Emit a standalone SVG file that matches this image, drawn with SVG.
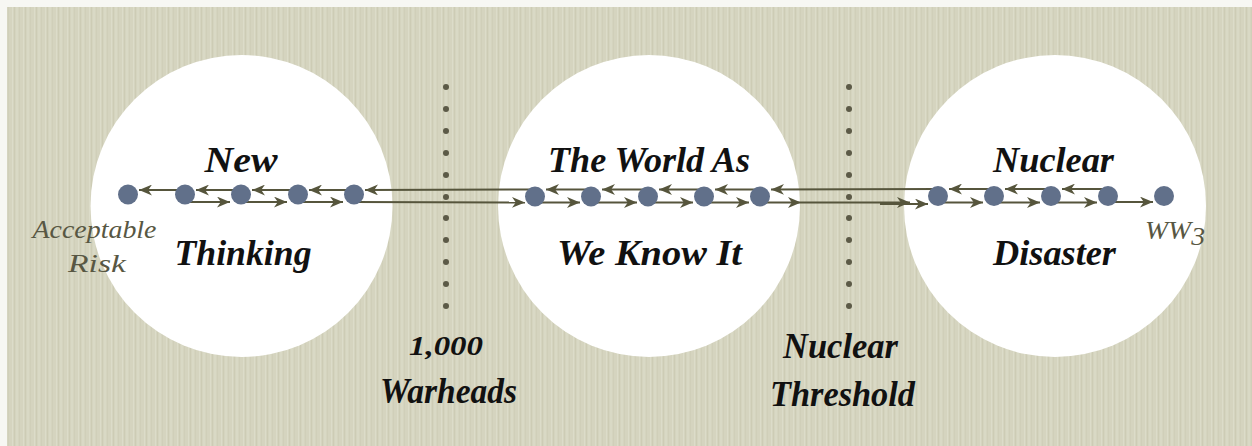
<svg xmlns="http://www.w3.org/2000/svg" width="1252" height="446" viewBox="0 0 1252 446">
  <defs>
    <pattern id="paper" x="0" y="0" width="11" height="446" patternUnits="userSpaceOnUse">
      <rect width="11" height="446" fill="#d5d4bf"/>
      <rect x="1" width="1" height="446" fill="#dcdcc9"/>
      <rect x="3" width="1" height="446" fill="#cdccb5"/>
      <rect x="5" width="2" height="446" fill="#d9d9c5"/>
      <rect x="8" width="1" height="446" fill="#d0cfb9"/>
    </pattern>
    <marker id="arr" viewBox="0 0 12 10" refX="12" refY="5" markerWidth="13" markerHeight="11" markerUnits="userSpaceOnUse" orient="auto">
      <path d="M0,0 L12,5 L0,10 L3.5,5 z" fill="#56553c"/>
    </marker>
    <style>
      .zone { fill: #ffffff; }
      .big { font-family: "Liberation Serif", serif; font-style: italic; font-weight: bold; font-size: 36px; fill: #111111; text-anchor: middle; }
      .small { font-family: "Liberation Serif", serif; font-style: italic; font-size: 26px; fill: #585743; text-anchor: middle; }
      .dot { fill: #61708a; }
      .sep { fill: #5c5a47; }
      .conn line { stroke: #56553c; stroke-width: 2; marker-end: url(#arr); }
    </style>
  </defs>

  <rect x="0" y="0" width="1252" height="446" fill="#f7f7f3"/>
  <rect x="7" y="7" width="1245" height="439" fill="url(#paper)"/>

  <!-- regions -->
  <g id="region-new-thinking">
    <circle class="zone" cx="241.5" cy="206" r="151"/>
    <text class="big" x="241" y="172" textLength="73" lengthAdjust="spacingAndGlyphs">New</text>
    <text class="big" x="243" y="265" textLength="137" lengthAdjust="spacingAndGlyphs">Thinking</text>
  </g>
  <g id="region-world">
    <circle class="zone" cx="649" cy="206" r="151"/>
    <text class="big" x="649" y="172" textLength="202" lengthAdjust="spacingAndGlyphs">The World As</text>
    <text class="big" x="649.5" y="265" textLength="185" lengthAdjust="spacingAndGlyphs">We Know It</text>
  </g>
  <g id="region-disaster">
    <circle class="zone" cx="1055" cy="206" r="151"/>
    <text class="big" x="1053.5" y="172" textLength="121" lengthAdjust="spacingAndGlyphs">Nuclear</text>
    <text class="big" x="1054.5" y="265" textLength="123" lengthAdjust="spacingAndGlyphs">Disaster</text>
  </g>

  <!-- dividers -->
  <g id="divider-warheads">
    <g class="sep">
      <circle cx="446" cy="87" r="3"/><circle cx="446" cy="109" r="3"/><circle cx="446" cy="131" r="3"/>
      <circle cx="446" cy="153" r="3"/><circle cx="446" cy="175" r="3"/><circle cx="446" cy="197" r="3"/>
      <circle cx="446" cy="218" r="3"/><circle cx="446" cy="240" r="3"/><circle cx="446" cy="262" r="3"/>
      <circle cx="446" cy="284" r="3"/><circle cx="446" cy="306" r="3"/>
    </g>
    <text class="big" x="446" y="355" style="font-size:27px" textLength="74" lengthAdjust="spacingAndGlyphs">1,000</text>
    <text class="big" x="448.5" y="403" textLength="137" lengthAdjust="spacingAndGlyphs">Warheads</text>
  </g>
  <g id="divider-threshold">
    <g class="sep">
      <circle cx="849" cy="87" r="3"/><circle cx="849" cy="109" r="3"/><circle cx="849" cy="131" r="3"/>
      <circle cx="849" cy="153" r="3"/><circle cx="849" cy="175" r="3"/><circle cx="849" cy="197" r="3"/>
      <circle cx="849" cy="218" r="3"/><circle cx="849" cy="240" r="3"/><circle cx="849" cy="262" r="3"/>
      <circle cx="849" cy="284" r="3"/><circle cx="849" cy="306" r="3"/>
    </g>
    <text class="big" x="840.5" y="358" textLength="115" lengthAdjust="spacingAndGlyphs">Nuclear</text>
    <text class="big" x="842.5" y="406" textLength="145" lengthAdjust="spacingAndGlyphs">Threshold</text>
  </g>

  <!-- connectors -->
  <g id="connectors" class="conn">
    <line x1="185" y1="190" x2="139" y2="190"/>
    <line x1="241" y1="190" x2="196" y2="190"/>
    <line x1="298" y1="190" x2="252" y2="190"/>
    <line x1="354" y1="190" x2="309" y2="190"/>
    <line x1="535" y1="189.5" x2="365" y2="190"/>
    <line x1="591" y1="189.5" x2="546" y2="189.5"/>
    <line x1="648" y1="189.5" x2="602" y2="189.5"/>
    <line x1="704" y1="189.5" x2="659" y2="189.5"/>
    <line x1="760" y1="189.5" x2="715" y2="189.5"/>
    <line x1="938" y1="189" x2="771" y2="189.5"/>
    <line x1="994" y1="189" x2="949" y2="189"/>
    <line x1="1051" y1="189" x2="1005" y2="189"/>
    <line x1="1108" y1="189" x2="1062" y2="189"/>
    <line x1="185" y1="202" x2="230" y2="202"/>
    <line x1="241" y1="202" x2="287" y2="202"/>
    <line x1="298" y1="202" x2="343" y2="202"/>
    <line x1="354" y1="202" x2="525" y2="202.5"/>
    <line x1="535" y1="202.5" x2="580" y2="202.5"/>
    <line x1="591" y1="202.5" x2="637" y2="202.5"/>
    <line x1="648" y1="202.5" x2="693" y2="202.5"/>
    <line x1="704" y1="202.5" x2="749" y2="202.5"/>
    <line x1="760" y1="202.5" x2="801" y2="202.5"/>
    <line x1="801" y1="202.5" x2="910" y2="202.5"/>
    <line x1="880" y1="204" x2="928" y2="204"/>
    <line x1="938" y1="202.5" x2="983" y2="202.5"/>
    <line x1="994" y1="202.5" x2="1040" y2="202.5"/>
    <line x1="1051" y1="202.5" x2="1097" y2="202.5"/>
    <line x1="1108" y1="202" x2="1153" y2="202"/>
  </g>

  <!-- nodes -->
  <g id="node-acceptable-risk">
    <circle class="dot" cx="128" cy="194.5" r="10"/>
    <text class="small" x="94.5" y="238" textLength="124" lengthAdjust="spacingAndGlyphs">Acceptable</text>
    <text class="small" x="97" y="272" textLength="58" lengthAdjust="spacingAndGlyphs">Risk</text>
  </g>
  <g id="node-nt-2"><circle class="dot" cx="185" cy="194.5" r="10"/></g>
  <g id="node-nt-3"><circle class="dot" cx="241" cy="194.5" r="10"/></g>
  <g id="node-nt-4"><circle class="dot" cx="298" cy="194.5" r="10"/></g>
  <g id="node-nt-5"><circle class="dot" cx="354" cy="194.5" r="10"/></g>
  <g id="node-w-1"><circle class="dot" cx="535" cy="196.5" r="10"/></g>
  <g id="node-w-2"><circle class="dot" cx="591" cy="196.5" r="10"/></g>
  <g id="node-w-3"><circle class="dot" cx="648" cy="196.5" r="10"/></g>
  <g id="node-w-4"><circle class="dot" cx="704" cy="196.5" r="10"/></g>
  <g id="node-w-5"><circle class="dot" cx="760" cy="196.5" r="10"/></g>
  <g id="node-d-1"><circle class="dot" cx="938" cy="196" r="10"/></g>
  <g id="node-d-2"><circle class="dot" cx="994" cy="196" r="10"/></g>
  <g id="node-d-3"><circle class="dot" cx="1051" cy="196" r="10"/></g>
  <g id="node-d-4"><circle class="dot" cx="1108" cy="196" r="10"/></g>
  <g id="node-ww3">
    <circle class="dot" cx="1164" cy="196" r="10"/>
    <text class="small" x="1145" y="239" style="text-anchor:start" textLength="60" lengthAdjust="spacingAndGlyphs">WW<tspan dy="6">3</tspan></text>
  </g>
</svg>
